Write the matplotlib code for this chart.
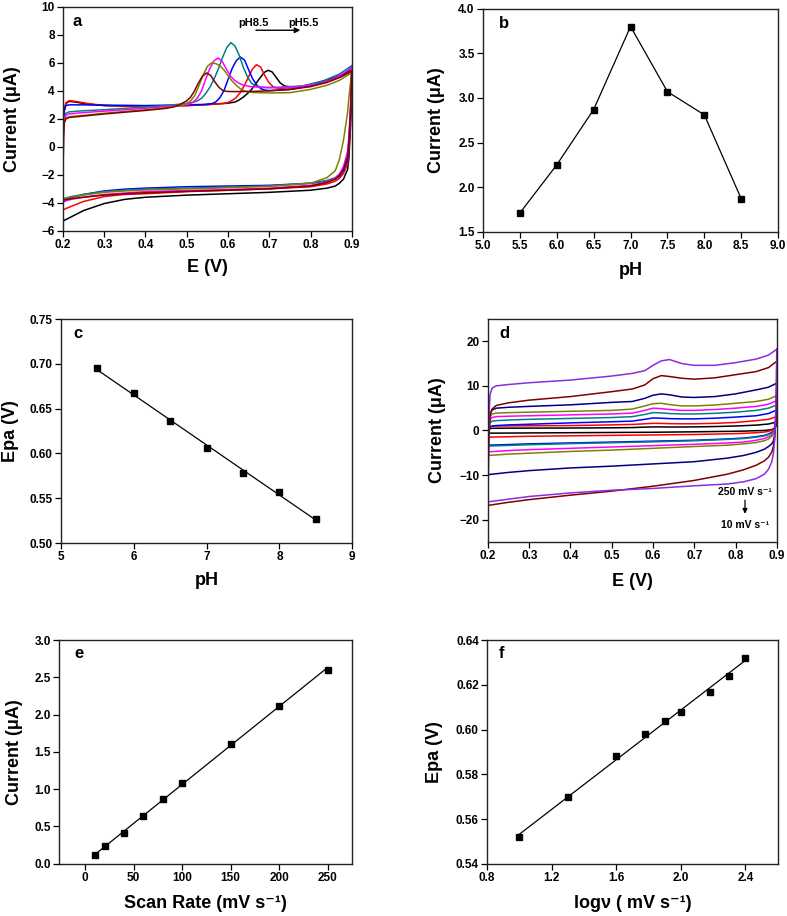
import numpy as np
import matplotlib
matplotlib.use('Agg')
import matplotlib.pyplot as plt

plt.rcParams['font.family'] = ['Liberation Sans', 'DejaVu Sans']
plt.rcParams['font.weight'] = 'bold'
plt.rcParams['axes.labelweight'] = 'bold'

# ---- panel a: CVs at different pH ----
ph_colors = ['#000000', '#ff0000', '#0000ff', '#008080', '#ff00ff', '#808000', '#800000']

E_back_a = [0.900, 0.897, 0.893, 0.89, 0.88, 0.87, 0.86, 0.84, 0.80, 0.70, 0.60, 0.50, 0.40, 0.35, 0.30, 0.25, 0.22, 0.20]

ph55_E = [0.200, 0.201, 0.203, 0.207, 0.215, 0.23, 0.26, 0.30, 0.40, 0.50, 0.55, 0.60, 0.617, 0.627, 0.637,
          0.647, 0.657, 0.667, 0.677, 0.687, 0.697, 0.707, 0.717, 0.727, 0.737, 0.747, 0.757, 0.777, 0.80, 0.83,
          0.86, 0.88, 0.90]
ph55_I = [-5.3, 1.0, 2.5, 3.1, 3.25, 3.2, 3.05, 2.95, 2.88, 2.95, 3.02, 3.12, 3.2, 3.35, 3.55,
          3.8, 4.1, 4.5, 4.9, 5.3, 5.47, 5.35, 4.95, 4.55, 4.35, 4.3, 4.28, 4.32, 4.45, 4.7,
          4.95, 5.2, 5.5]
ph55_back = [5.5, 1.5, -0.8, -1.6, -2.3, -2.6, -2.8, -2.95, -3.1, -3.25, -3.35, -3.45, -3.6, -3.75, -4.05, -4.55, -5.0, -5.3]

ph60_E = [0.200, 0.201, 0.203, 0.207, 0.215, 0.23, 0.26, 0.30, 0.40, 0.50, 0.55, 0.589, 0.599, 0.609, 0.619,
          0.629, 0.639, 0.649, 0.659, 0.669, 0.679, 0.689, 0.699, 0.709, 0.719, 0.729, 0.749, 0.78, 0.82, 0.86,
          0.88, 0.90]
ph60_I = [-4.5, 1.0, 2.6, 3.15, 3.3, 3.25, 3.1, 2.95, 2.88, 2.95, 3.02, 3.1, 3.15, 3.3, 3.5,
          3.85, 4.35, 4.95, 5.55, 5.87, 5.7, 5.1, 4.6, 4.3, 4.2, 4.18, 4.22, 4.3, 4.5, 4.85,
          5.1, 5.45]
ph60_back = [5.45, 1.8, -0.3, -1.2, -1.9, -2.25, -2.45, -2.65, -2.85, -3.0, -3.1, -3.2, -3.35, -3.4, -3.55, -3.9, -4.25, -4.5]

ph65_E = [0.200, 0.201, 0.203, 0.207, 0.215, 0.25, 0.30, 0.40, 0.50, 0.54, 0.56, 0.57, 0.58, 0.59, 0.60,
          0.61, 0.62, 0.63, 0.64, 0.65, 0.66, 0.67, 0.68, 0.69, 0.70, 0.75, 0.80, 0.85, 0.88, 0.90]
ph65_I = [-3.95, 1.2, 2.6, 2.95, 3.0, 3.0, 2.98, 2.95, 3.0, 3.03, 3.08, 3.2, 3.5, 4.0, 4.8,
          5.6, 6.15, 6.42, 6.2, 5.5, 4.85, 4.4, 4.15, 4.05, 4.02, 4.1, 4.35, 4.8, 5.2, 5.7]
ph65_back = [5.7, 2.2, 0.0, -0.9, -1.7, -2.1, -2.3, -2.45, -2.6, -2.75, -2.8, -2.85, -2.95, -3.02, -3.15, -3.4, -3.65, -3.95]

ph70_E = [0.200, 0.201, 0.203, 0.207, 0.215, 0.25, 0.30, 0.40, 0.45, 0.50, 0.517, 0.527, 0.537, 0.547, 0.557,
          0.567, 0.577, 0.587, 0.597, 0.607, 0.617, 0.627, 0.637, 0.647, 0.657, 0.667, 0.677, 0.687, 0.72, 0.78,
          0.83, 0.87, 0.90]
ph70_I = [-3.7, 0.8, 2.0, 2.4, 2.5, 2.58, 2.65, 2.85, 2.95, 3.1, 3.2, 3.3, 3.5, 3.85, 4.3,
          4.9, 5.6, 6.4, 7.1, 7.45, 7.2, 6.55, 5.7, 5.0, 4.55, 4.35, 4.28, 4.25, 4.25, 4.35,
          4.7, 5.2, 5.8]
ph70_back = [5.8, 2.5, 0.3, -0.7, -1.55, -1.95, -2.2, -2.4, -2.6, -2.8, -2.88, -2.95, -3.02, -3.1, -3.2, -3.4, -3.55, -3.7]

ph75_E = [0.200, 0.201, 0.203, 0.207, 0.215, 0.25, 0.30, 0.40, 0.45, 0.496, 0.506, 0.516, 0.526, 0.536, 0.546,
          0.556, 0.566, 0.576, 0.586, 0.596, 0.606, 0.616, 0.626, 0.636, 0.646, 0.656, 0.70, 0.76, 0.82, 0.86,
          0.90]
ph75_I = [-3.9, 0.8, 1.9, 2.25, 2.35, 2.45, 2.55, 2.75, 2.88, 3.0, 3.05, 3.2, 3.5, 4.0, 4.85,
          5.6, 6.15, 6.35, 6.1, 5.55, 5.05, 4.75, 4.55, 4.42, 4.35, 4.3, 4.22, 4.25, 4.5, 4.9,
          5.65]
ph75_back = [5.65, 3.0, 0.8, -0.3, -1.4, -1.95, -2.25, -2.5, -2.75, -2.95, -3.05, -3.12, -3.2, -3.3, -3.4, -3.6, -3.75, -3.9]

ph80_E = [0.200, 0.201, 0.203, 0.207, 0.215, 0.25, 0.30, 0.40, 0.45, 0.48, 0.49, 0.50, 0.51, 0.52, 0.53,
          0.54, 0.55, 0.56, 0.57, 0.58, 0.59, 0.60, 0.61, 0.62, 0.63, 0.64, 0.66, 0.70, 0.75, 0.80,
          0.84, 0.87, 0.90]
ph80_I = [-3.75, 0.7, 1.7, 2.05, 2.15, 2.25, 2.4, 2.65, 2.8, 2.95, 3.0, 3.1, 3.3, 3.7, 4.4,
          5.15, 5.75, 6.0, 5.95, 5.8, 5.5, 5.1, 4.7, 4.4, 4.15, 3.98, 3.88, 3.85, 3.87, 4.1,
          4.4, 4.75, 5.3]
ph80_back = [5.3, 4.6, 3.5, 2.5, 0.5, -0.9, -1.7, -2.2, -2.6, -2.82, -2.92, -3.0, -3.08, -3.15, -3.25, -3.45, -3.6, -3.75]

ph85_E = [0.200, 0.201, 0.203, 0.207, 0.215, 0.25, 0.30, 0.40, 0.45, 0.468, 0.478, 0.488, 0.498, 0.508, 0.518,
          0.528, 0.538, 0.548, 0.558, 0.568, 0.578, 0.588, 0.598, 0.608, 0.628, 0.66, 0.70, 0.75, 0.80, 0.84,
          0.87, 0.90]
ph85_I = [-3.8, 0.7, 1.7, 2.0, 2.1, 2.2, 2.35, 2.6, 2.75, 2.85, 2.95, 3.1, 3.25, 3.5, 3.95,
          4.55, 5.05, 5.28, 5.1, 4.65, 4.25, 4.02, 3.96, 3.95, 3.95, 3.96, 4.0, 4.1, 4.3, 4.6,
          4.95, 5.4]
ph85_back = [5.4, 2.5, 0.3, -0.7, -1.6, -2.05, -2.3, -2.55, -2.8, -3.0, -3.1, -3.18, -3.28, -3.35, -3.45, -3.6, -3.7, -3.8]

# ---- panel b / c: peak current and potential vs pH ----
ph = [5.5, 6.0, 6.5, 7.0, 7.5, 8.0, 8.5]
ipa_ph = [1.71, 2.25, 2.87, 3.80, 3.07, 2.81, 1.87]
epa_ph = [0.695, 0.667, 0.636, 0.606, 0.578, 0.557, 0.527]

# ---- panel d: CVs at different scan rates ----
rate_colors = ['#8a2be2', '#800000', '#000080', '#808000', '#ff00ff', '#008080', '#0000ff', '#ff0000', '#000000']
E_up_d = [0.200, 0.202, 0.205, 0.21, 0.22, 0.25, 0.30, 0.40, 0.50, 0.55, 0.58, 0.60, 0.62, 0.64, 0.67,
          0.70, 0.75, 0.80, 0.85, 0.88, 0.90]
E_back_d = [0.900, 0.899, 0.897, 0.895, 0.892, 0.888, 0.88, 0.87, 0.85, 0.82, 0.78, 0.70, 0.60, 0.50, 0.40,
            0.30, 0.25, 0.20]

v250_up = [-16.0, 2.0, 8.0, 9.5, 10.0, 10.3, 10.7, 11.3, 12.2, 12.8, 13.4, 14.6, 15.6, 15.9, 15.0, 14.6, 14.6, 15.2, 16.0, 16.9, 18.2]
v200_up = [-16.8, -3.0, 3.5, 4.8, 5.6, 6.2, 6.8, 7.6, 8.7, 9.3, 10.2, 11.6, 12.3, 12.1, 11.7, 11.5, 11.8, 12.5, 13.2, 14.1, 15.5]
v150_up = [-9.9, 0.0, 3.6, 4.6, 5.0, 5.2, 5.4, 5.75, 6.3, 6.5, 7.2, 7.9, 8.2, 8.0, 7.5, 7.4, 7.6, 8.2, 9.1, 9.7, 10.6]
v100_up = [-5.6, 0.5, 3.0, 3.7, 3.9, 4.0, 4.1, 4.3, 4.5, 4.8, 5.5, 6.0, 6.1, 5.8, 5.5, 5.5, 5.7, 6.1, 6.5, 7.0, 7.8]
v80_up = [-4.8, 0.3, 2.4, 2.9, 3.1, 3.2, 3.3, 3.5, 3.7, 3.9, 4.5, 5.0, 4.9, 4.7, 4.5, 4.5, 4.7, 5.0, 5.4, 5.9, 6.7]
v60_up = [-3.5, 0.2, 1.7, 2.1, 2.2, 2.35, 2.5, 2.7, 2.9, 3.1, 3.6, 4.0, 3.95, 3.8, 3.7, 3.7, 3.85, 4.1, 4.5, 5.0, 5.7]
v40_up = [-3.3, -0.2, 0.8, 1.0, 1.1, 1.25, 1.4, 1.7, 1.95, 2.1, 2.5, 2.8, 2.75, 2.65, 2.6, 2.6, 2.75, 3.0, 3.3, 3.8, 4.6]
v20_up = [-1.5, 0.2, 0.8, 0.95, 1.0, 1.02, 1.05, 1.1, 1.25, 1.35, 1.5, 1.6, 1.58, 1.52, 1.5, 1.5, 1.6, 1.8, 2.2, 2.5, 3.1]
v10_up = [-0.6, 0.1, 0.4, 0.48, 0.5, 0.52, 0.53, 0.55, 0.6, 0.65, 0.75, 0.8, 0.8, 0.78, 0.78, 0.8, 0.88, 1.0, 1.2, 1.45, 1.9]

v250_back = [18.2, 10.0, 3.0, -2.0, -5.0, -7.0, -8.7, -9.8, -10.8, -11.5, -12.0, -12.4, -13.0, -13.4, -14.0, -14.8, -15.4, -16.0]
v200_back = [15.5, 8.0, 2.0, -1.5, -3.5, -4.8, -6.0, -6.8, -7.8, -8.8, -9.8, -11.2, -12.5, -13.6, -14.5, -15.5, -16.1, -16.8]
v150_back = [10.6, 5.0, 1.0, -1.0, -2.3, -3.0, -3.6, -4.2, -4.9, -5.6, -6.2, -7.0, -7.5, -8.0, -8.4, -9.0, -9.4, -9.9]
v100_back = [7.8, 4.0, 1.5, 0.0, -0.8, -1.3, -1.9, -2.3, -2.7, -3.0, -3.3, -3.6, -4.0, -4.4, -4.7, -5.1, -5.3, -5.6]
v80_back = [6.7, 4.0, 1.5, 0.3, -0.5, -1.0, -1.4, -1.8, -2.2, -2.6, -2.8, -3.1, -3.4, -3.7, -4.0, -4.3, -4.5, -4.8]
v60_back = [5.7, 3.5, 1.8, 0.6, -0.2, -0.6, -0.9, -1.2, -1.5, -1.8, -2.0, -2.3, -2.55, -2.75, -2.95, -3.2, -3.35, -3.5]
v40_back = [4.6, 3.0, 1.5, 0.6, 0.0, -0.4, -0.8, -1.1, -1.4, -1.7, -1.9, -2.2, -2.4, -2.6, -2.8, -3.0, -3.15, -3.3]
v20_back = [3.1, 2.0, 1.0, 0.6, 0.3, 0.1, -0.2, -0.35, -0.5, -0.65, -0.75, -0.9, -1.0, -1.1, -1.2, -1.3, -1.4, -1.5]
v10_back = [1.9, 1.3, 0.8, 0.6, 0.4, 0.2, 0.1, 0.0, -0.05, -0.15, -0.2, -0.3, -0.4, -0.45, -0.5, -0.55, -0.58, -0.6]

# ---- panel e / f: scan-rate dependence ----
scan_rate = [10, 20, 40, 60, 80, 100, 150, 200, 250]
ipa_rate = [0.11, 0.23, 0.41, 0.64, 0.86, 1.08, 1.61, 2.12, 2.60]
log_v = [1.00, 1.30, 1.60, 1.78, 1.90, 2.00, 2.18, 2.30, 2.40]
epa_rate = [0.552, 0.570, 0.588, 0.598, 0.604, 0.608, 0.617, 0.624, 0.632]

TICK_FS = 8.5
LABEL_FS = 13
INV_S = 's\u207b\u00b9'   # s^-1 as plain text


def style_axes(ax, letter, lx, ly, xlab, ylab, xl_y, yl_x):
    for sp in ax.spines.values():
        sp.set_linewidth(1.0)
        sp.set_color('#222222')
    ax.tick_params(direction='out', length=4, width=0.9, labelsize=TICK_FS,
                   top=False, right=False, pad=2)
    for t in ax.get_xticklabels() + ax.get_yticklabels():
        t.set_fontweight('bold')
    ax.set_xlabel(xlab, fontsize=LABEL_FS, fontweight='bold')
    ax.set_ylabel(ylab, fontsize=LABEL_FS, fontweight='bold')
    ax.xaxis.set_label_coords(0.5, xl_y)
    ax.yaxis.set_label_coords(yl_x, 0.5)
    ax.xaxis.label.set_va('center')
    ax.yaxis.label.set_va('center')
    ax.text(lx, ly, letter, transform=ax.transAxes, fontsize=12, fontweight='bold',
            ha='center', va='center')


def cv(ax, E_back, I_back, E_up, I_up, color):
    ax.plot(list(E_back) + list(E_up), list(I_back) + list(I_up), color=color, lw=1.1)


fig = plt.figure(figsize=(7.87, 9.16), dpi=100)

axa = fig.add_axes([0.080, 0.748, 0.367, 0.2445])
axb = fig.add_axes([0.6137, 0.747, 0.375, 0.2435])
axc = fig.add_axes([0.0775, 0.4072, 0.370, 0.2445])
axd = fig.add_axes([0.620, 0.4083, 0.367, 0.2435])
axe = fig.add_axes([0.075, 0.0573, 0.372, 0.244])
axf = fig.add_axes([0.619, 0.0568, 0.369, 0.2445])

# a
ph_E = [ph55_E, ph60_E, ph65_E, ph70_E, ph75_E, ph80_E, ph85_E]
ph_I = [ph55_I, ph60_I, ph65_I, ph70_I, ph75_I, ph80_I, ph85_I]
ph_back = [ph55_back, ph60_back, ph65_back, ph70_back, ph75_back, ph80_back, ph85_back]
for Eu, Iu, Ib, c in zip(ph_E, ph_I, ph_back, ph_colors):
    cv(axa, E_back_a, Ib, Eu, Iu, c)
axa.set_xlim(0.2, 0.9)
axa.set_ylim(-6, 10)
axa.set_xticks(np.arange(0.2, 0.91, 0.1))
axa.set_xticklabels(['0.2', '0.3', '0.4', '0.5', '0.6', '0.7', '0.8', '0.9'])
axa.set_yticks(range(-6, 11, 2))
axa.text(0.662, 8.86, 'pH8.5', fontsize=8, fontweight='bold', ha='center', va='center')
axa.text(0.782, 8.86, 'pH5.5', fontsize=8, fontweight='bold', ha='center', va='center')
axa.annotate('', xy=(0.782, 8.33), xytext=(0.661, 8.33),
             arrowprops=dict(arrowstyle='-|>', color='black', lw=1.0, mutation_scale=8))
style_axes(axa, 'a', 0.05, 0.936, 'E (V)', 'Current (\u03bcA)', -0.165, -0.173)

# b
axb.plot(ph, ipa_ph, color='black', lw=0.9, marker='s', markersize=4)
axb.set_xlim(5.0, 9.0)
axb.set_ylim(1.5, 4.0)
axb.set_xticks(np.arange(5.0, 9.01, 0.5))
axb.set_xticklabels(['%.1f' % v for v in np.arange(5.0, 9.01, 0.5)])
axb.set_yticks(np.arange(1.5, 4.01, 0.5))
axb.set_yticklabels(['%.1f' % v for v in np.arange(1.5, 4.01, 0.5)])
style_axes(axb, 'b', 0.071, 0.933, 'pH', 'Current (\u03bcA)', -0.172, -0.157)

# c
fit_c = np.polyfit(ph, epa_ph, 1)
axc.plot([ph[0], ph[-1]], np.polyval(fit_c, [ph[0], ph[-1]]), color='black', lw=0.9)
axc.plot(ph, epa_ph, 's', color='black', markersize=4)
axc.set_xlim(5, 9)
axc.set_ylim(0.50, 0.75)
axc.set_xticks(range(5, 10))
axc.set_yticks(np.arange(0.50, 0.751, 0.05))
axc.set_yticklabels(['%.2f' % v for v in np.arange(0.50, 0.751, 0.05)])
style_axes(axc, 'c', 0.06, 0.936, 'pH', 'Epa (V)', -0.167, -0.175)

# d
d_up = [v250_up, v200_up, v150_up, v100_up, v80_up, v60_up, v40_up, v20_up, v10_up]
d_back = [v250_back, v200_back, v150_back, v100_back, v80_back, v60_back, v40_back, v20_back, v10_back]
for Iu, Ib, c in zip(d_up[::-1], d_back[::-1], rate_colors[::-1]):
    cv(axd, E_back_d, Ib, E_up_d, Iu, c)
axd.set_xlim(0.2, 0.9)
axd.set_ylim(-25, 25)
axd.set_xticks(np.arange(0.2, 0.91, 0.1))
axd.set_xticklabels(['0.2', '0.3', '0.4', '0.5', '0.6', '0.7', '0.8', '0.9'])
axd.set_yticks([-20, -10, 0, 10, 20])
axd.text(0.823, -13.7, '250 mV ' + INV_S, fontsize=7.5, fontweight='bold', ha='center', va='center')
axd.text(0.823, -21.2, '10 mV ' + INV_S, fontsize=7.5, fontweight='bold', ha='center', va='center')
axd.annotate('', xy=(0.823, -19.3), xytext=(0.823, -15.0),
             arrowprops=dict(arrowstyle='-|>', color='black', lw=0.9, mutation_scale=7))
style_axes(axd, 'd', 0.056, 0.937, 'E (V)', 'Current (\u03bcA)', -0.177, -0.176)

# e
fit_e = np.polyfit(scan_rate, ipa_rate, 1)
axe.plot([scan_rate[0], scan_rate[-1]], np.polyval(fit_e, [scan_rate[0], scan_rate[-1]]), color='black', lw=0.9)
axe.plot(scan_rate, ipa_rate, 's', color='black', markersize=4)
axe.set_xlim(-27, 275)
axe.set_ylim(0, 3.0)
axe.set_xticks(range(0, 251, 50))
axe.set_yticks(np.arange(0, 3.01, 0.5))
axe.set_yticklabels(['%.1f' % v for v in np.arange(0, 3.01, 0.5)])
style_axes(axe, 'e', 0.067, 0.94, 'Scan Rate (mV ' + INV_S + ')', 'Current (\u03bcA)', -0.179, -0.151)

# f
fit_f = np.polyfit(log_v, epa_rate, 1)
axf.plot([log_v[0], log_v[-1]], np.polyval(fit_f, [log_v[0], log_v[-1]]), color='black', lw=0.9)
axf.plot(log_v, epa_rate, 's', color='black', markersize=4)
axf.set_xlim(0.8, 2.6)
axf.set_ylim(0.54, 0.64)
axf.set_xticks(np.arange(0.8, 2.41, 0.4))
axf.set_xticklabels(['%.1f' % v for v in np.arange(0.8, 2.41, 0.4)])
axf.set_yticks(np.arange(0.54, 0.641, 0.02))
axf.set_yticklabels(['%.2f' % v for v in np.arange(0.54, 0.641, 0.02)])
style_axes(axf, 'f', 0.05, 0.94, 'log\u03bd ( mV ' + INV_S + ')', 'Epa (V)', -0.175, -0.18)

fig.savefig('out.png', dpi=100)
